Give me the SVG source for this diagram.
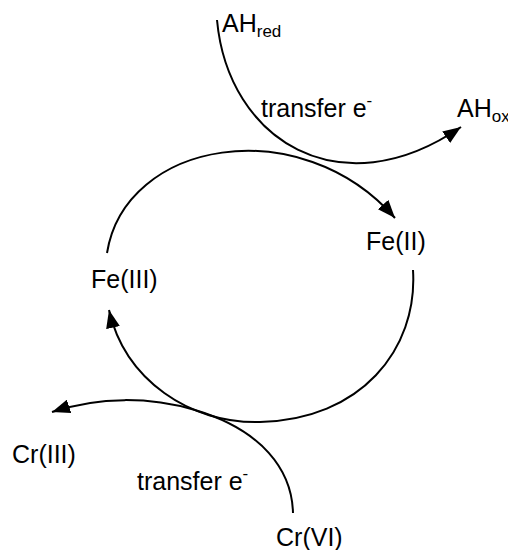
<svg xmlns="http://www.w3.org/2000/svg" width="508" height="550" viewBox="0 0 508 550">
<style>
text{font-family:"Liberation Sans",Arial,sans-serif;font-size:25px;fill:#000}
.sub{font-size:17px}
.c{fill:none;stroke:#000;stroke-width:2}
</style>
<defs>
<marker id="ah" markerUnits="userSpaceOnUse" markerWidth="18" markerHeight="14" refX="18" refY="7" orient="auto">
<path d="M0,0 L18,7 L0,14 z" fill="#000"/>
</marker>
</defs>
<rect width="508" height="550" fill="#fff"/>
<g id="connectors">
<path class="c" d="M217,20 C228,140 340,210 461,127" marker-end="url(#ah)"/>
<path class="c" d="M107,253 C125,140 300,110 395,218" marker-end="url(#ah)"/>
<path class="c" d="M413,270 C418,350 360,420 260,422 C190,424 125,380 109,310" marker-end="url(#ah)"/>
<path class="c" d="M293,513 C292,470 262,430 195,410 C150,397 100,396 52,412" marker-end="url(#ah)"/>
</g>
<g id="ahred"><text x="222" y="32">AH<tspan class="sub" y="37">red</tspan></text></g>
<g id="ahox"><text x="457" y="117">AH<tspan class="sub" y="122">ox</tspan></text></g>
<g id="transfer1"><text x="261" y="117">transfer e<tspan class="sub" y="106">-</tspan></text></g>
<g id="fe2"><text x="366" y="250">Fe(II)</text></g>
<g id="fe3"><text x="91" y="288">Fe(III)</text></g>
<g id="cr3"><text x="12" y="463">Cr(III)</text></g>
<g id="transfer2"><text x="137" y="490">transfer e<tspan class="sub" y="479">-</tspan></text></g>
<g id="cr6"><text x="276" y="546">Cr(VI)</text></g>
</svg>
